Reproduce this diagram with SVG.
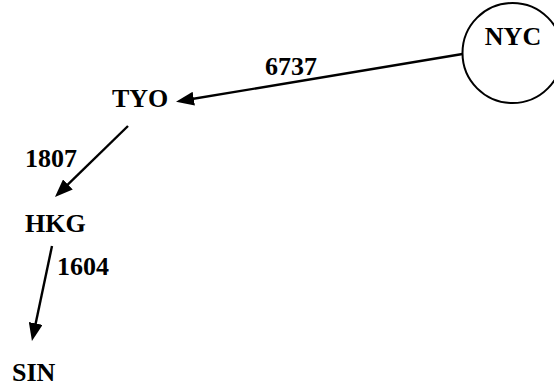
<svg xmlns="http://www.w3.org/2000/svg" width="554" height="387" viewBox="0 0 554 387">
<style>
.lbl{font-family:"Liberation Serif","Times New Roman",serif;font-weight:bold;font-size:26px;fill:#000}
.edge{stroke:#000;stroke-width:2.4;fill:none;marker-end:url(#ah)}
</style>
<defs>
<marker id="ah" viewBox="0 0 18 14" refX="11" refY="7" markerWidth="18" markerHeight="14" markerUnits="userSpaceOnUse" orient="auto">
<path d="M0,0 L18,7 L0,14 Z" fill="#000"/>
</marker>
</defs>
<rect width="554" height="387" fill="#fff"/>
<g id="connectors">
<line class="edge" x1="462.5" y1="54" x2="182.9" y2="100.5"/>
<line class="edge" x1="128" y1="126" x2="60" y2="192.1"/>
<line class="edge" x1="52" y1="246" x2="33.4" y2="334.2"/>
<text class="lbl" x="265" y="75">6737</text>
<text class="lbl" x="25" y="166.7">1807</text>
<text class="lbl" x="57" y="275">1604</text>
</g>
<g id="NYC">
<circle cx="512.5" cy="53" r="50" fill="#fff" stroke="#000" stroke-width="2"/>
<text class="lbl" x="513" y="45" text-anchor="middle">NYC</text>
</g>
<g id="TYO"><text class="lbl" x="112" y="106.7">TYO</text></g>
<g id="HKG"><text class="lbl" x="25" y="231.7">HKG</text></g>
<g id="SIN"><text class="lbl" x="12" y="381">SIN</text></g>
</svg>
